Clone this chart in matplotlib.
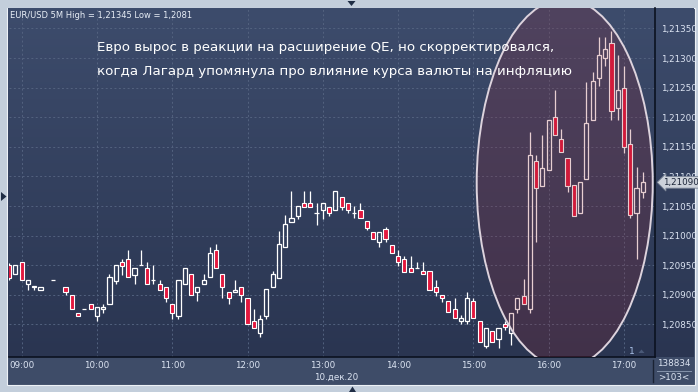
import numpy as np
import pandas as pd
import matplotlib
matplotlib.use("Agg")
import matplotlib.pyplot as plt
from matplotlib.patches import Ellipse, Rectangle, Polygon
from matplotlib.colors import LinearSegmentedColormap
from matplotlib.ticker import FuncFormatter
from matplotlib.transforms import blended_transform_factory

nan = np.nan

# EUR/USD 5M, 10.12.2020, 08:50 .. 17:15
times = pd.date_range("2020-12-10 08:50", periods=102, freq="5min")

opens = [1.20950, 1.20935, 1.20955, 1.20919, 1.20913, 1.20909, nan, 1.20925, nan, 1.20914,
         1.20899, 1.20870, 1.20876, 1.20884, 1.20865, 1.20876, 1.20884, 1.20924, 1.20955, 1.20960,
         1.20934, 1.20950, 1.20945, 1.20925, 1.20919, 1.20914, 1.20884, 1.20865, 1.20919, 1.20935,
         1.20904, 1.20919, 1.20930, 1.20976, 1.20935, 1.20904, 1.20904, 1.20914, 1.20894, 1.20856,
         1.20835, 1.20865, 1.20914, 1.20929, 1.20980, 1.21023, 1.21034, 1.21055, 1.21055, 1.21039,
         1.21044, 1.21049, 1.21044, 1.21065, 1.21055, 1.21039, 1.21044, 1.21024, 1.21006, 1.20990,
         1.21011, 1.20985, 1.20965, 1.20960, 1.20945, 1.20945, 1.20940, 1.20940, 1.20914, 1.20899,
         1.20889, 1.20876, 1.20855, 1.20855, 1.20889, 1.20855, 1.20814, 1.20839, 1.20825, 1.20850,
         1.20835, 1.20876, 1.20898, 1.20876, 1.21126, 1.21084, 1.21111, 1.21200, 1.21164, 1.21131,
         1.21085, 1.21039, 1.21095, 1.21195, 1.21266, 1.21300, 1.21325, 1.21215, 1.21250, 1.21154,
         1.21039, 1.21074]
highs = [1.20954, 1.20950, 1.20955, 1.20925, 1.20915, 1.20914, nan, 1.20925, nan, 1.20914,
         1.20899, 1.20870, 1.20876, 1.20884, 1.20879, 1.20884, 1.20935, 1.20950, 1.20960, 1.20976,
         1.20945, 1.20976, 1.20955, 1.20950, 1.20925, 1.20914, 1.20884, 1.20925, 1.20945, 1.20935,
         1.20914, 1.20935, 1.20981, 1.20986, 1.20935, 1.20904, 1.20925, 1.20914, 1.20894, 1.20876,
         1.20866, 1.20910, 1.20940, 1.21007, 1.21035, 1.21075, 1.21050, 1.21075, 1.21075, 1.21055,
         1.21055, 1.21049, 1.21075, 1.21065, 1.21055, 1.21050, 1.21055, 1.21024, 1.21006, 1.21006,
         1.21014, 1.20985, 1.20976, 1.20965, 1.20965, 1.20955, 1.20955, 1.20940, 1.20925, 1.20899,
         1.20889, 1.20894, 1.20866, 1.20904, 1.20894, 1.20855, 1.20844, 1.20839, 1.20844, 1.20855,
         1.20870, 1.20894, 1.20927, 1.21175, 1.21136, 1.21170, 1.21195, 1.21246, 1.21180, 1.21131,
         1.21085, 1.21090, 1.21260, 1.21277, 1.21336, 1.21336, 1.21345, 1.21305, 1.21286, 1.21180,
         1.21116, 1.21107]
lows = [1.20925, 1.20935, 1.20925, 1.20909, 1.20909, 1.20909, nan, 1.20925, nan, 1.20899,
        1.20876, 1.20865, 1.20876, 1.20876, 1.20855, 1.20870, 1.20884, 1.20919, 1.20933, 1.20930,
        1.20919, 1.20950, 1.20919, 1.20919, 1.20909, 1.20888, 1.20860, 1.20860, 1.20919, 1.20899,
        1.20889, 1.20919, 1.20930, 1.20945, 1.20894, 1.20884, 1.20904, 1.20888, 1.20850, 1.20844,
        1.20829, 1.20860, 1.20914, 1.20929, 1.20980, 1.21023, 1.21028, 1.21049, 1.21049, 1.21018,
        1.21028, 1.21034, 1.21044, 1.21044, 1.21039, 1.21029, 1.21029, 1.21009, 1.20995, 1.20980,
        1.20990, 1.20970, 1.20949, 1.20939, 1.20939, 1.20945, 1.20935, 1.20909, 1.20898, 1.20888,
        1.20871, 1.20861, 1.20850, 1.20850, 1.20861, 1.20820, 1.20810, 1.20820, 1.20810, 1.20841,
        1.20815, 1.20870, 1.20884, 1.20870, 1.20990, 1.21084, 1.21111, 1.21170, 1.21141, 1.21074,
        1.21034, 1.21039, 1.21095, 1.21195, 1.21252, 1.21286, 1.21195, 1.21195, 1.21140, 1.21029,
        1.20960, 1.21064]
closes = [1.20928, 1.20950, 1.20925, 1.20925, 1.20915, 1.20914, nan, 1.20925, nan, 1.20904,
          1.20876, 1.20865, 1.20876, 1.20876, 1.20879, 1.20879, 1.20930, 1.20950, 1.20949, 1.20930,
          1.20945, 1.20950, 1.20919, 1.20925, 1.20909, 1.20894, 1.20870, 1.20925, 1.20945, 1.20899,
          1.20914, 1.20925, 1.20971, 1.20945, 1.20914, 1.20894, 1.20909, 1.20899, 1.20850, 1.20844,
          1.20860, 1.20910, 1.20935, 1.20986, 1.21020, 1.21029, 1.21050, 1.21049, 1.21049, 1.21039,
          1.21055, 1.21039, 1.21075, 1.21049, 1.21044, 1.21039, 1.21029, 1.21013, 1.20995, 1.21006,
          1.20995, 1.20970, 1.20955, 1.20939, 1.20939, 1.20945, 1.20935, 1.20909, 1.20904, 1.20894,
          1.20871, 1.20861, 1.20861, 1.20894, 1.20861, 1.20820, 1.20844, 1.20820, 1.20844, 1.20845,
          1.20870, 1.20894, 1.20884, 1.21136, 1.21080, 1.21115, 1.21195, 1.21170, 1.21141, 1.21084,
          1.21034, 1.21090, 1.21190, 1.21261, 1.21305, 1.21315, 1.21211, 1.21246, 1.21149, 1.21035,
          1.21080, 1.21090]

price_ticks = [1.2085, 1.2090, 1.2095, 1.2100, 1.2105, 1.2110, 1.2115, 1.2120, 1.2125, 1.2130, 1.2135]
note = ["Евро вырос в реакции на расширение QE, но скорректировался,",
        "когда Лагард упомянула про влияние курса валюты на инфляцию"]

o = np.array(opens); h = np.array(highs); l = np.array(lows); c = np.array(closes)
x = np.arange(len(o))
ok = ~np.isnan(o)
up = ok & (c >= o)
dn = ok & (c < o)

W, H = 698, 392
fig = plt.figure(figsize=(W / 100, H / 100), dpi=100)
fig.patch.set_facecolor("#c3cedb")

def box(x0, y0, x1, y1):
    # pixel box (top-left origin) -> figure rect
    return [x0 / W, 1 - y1 / H, (x1 - x0) / W, (y1 - y0) / H]

# panels
fig.patches.append(Rectangle((7.5 / W, 1 - 384.5 / H), 687 / W, 377 / H, transform=fig.transFigure,
                             fc="#3e4c68", ec="#edf1f6", lw=0.8, zorder=-5))
bg = fig.add_axes(box(8, 8, 694, 357), zorder=-2)
grad = LinearSegmentedColormap.from_list("bg", ["#3d4c6c", "#2a3551"])
bg.imshow(np.linspace(0, 1, 256).reshape(-1, 1), cmap=grad, aspect="auto")
bg.axis("off")

ax = fig.add_axes(box(9, 8, 655, 357))
ax.patch.set_alpha(0)
ax.set_xlim(-0.01, 102.94)
ax.set_ylim(1.20795, 1.213845)

ax.grid(True, color="#53627f", ls=(0, (2, 2.5)), lw=0.7)
ax.set_axisbelow(True)

# candles
bw = 0.66
ax.vlines(x[ok], np.maximum(o, c)[ok], h[ok], color="white", lw=0.9, zorder=3)
ax.vlines(x[ok], l[ok], np.minimum(o, c)[ok], color="white", lw=0.9, zorder=3)
ax.bar(x[dn], (c - o)[dn], bottom=o[dn], width=bw, color="#e3183e", edgecolor="white", linewidth=0.8, zorder=4)
ax.bar(x[up], (c - o)[up], bottom=o[up], width=bw, facecolor="none", edgecolor="white", linewidth=0.9, zorder=4)

ax.add_patch(Ellipse((88.55, 1.21089), 28.05, 0.006216, fc=(149 / 255, 36 / 255, 49 / 255, 0.22),
                     ec="#ddd3dd", lw=1.4, zorder=5))

# axes
ax.yaxis.tick_right()
ax.set_yticks(price_ticks)
ax.yaxis.set_major_formatter(FuncFormatter(lambda v, p: f"{v:.5f}".replace(".", ",")))
hours = [i for i, t in enumerate(times) if t.minute == 0]
ax.set_xticks(hours)
ax.set_xticklabels([times[i].strftime("%H:%M") for i in hours])
ax.tick_params(axis="y", length=0, pad=4, labelsize=6.3, labelcolor="#dce4f2")
ax.tick_params(axis="x", length=0, pad=3, labelsize=6.3, labelcolor="#dce4f2")
for s in ["top", "left"]:
    ax.spines[s].set_visible(False)
for s in ["right", "bottom"]:
    ax.spines[s].set_color("#0b1220")
    ax.spines[s].set_linewidth(1.2)

# last price tag
tr = blended_transform_factory(ax.transAxes, ax.transData)
ax.text(1.013, c[-1], f"{c[-1]:.5f}".replace(".", ","), transform=tr, fontsize=6.3, color="#1c2538",
        va="center", ha="left", clip_on=False, zorder=10,
        bbox=dict(boxstyle="larrow,pad=0.15", fc="#cdd2da", ec="#7d8798", lw=0.6))

# texts
hi = f"{np.nanmax(h):.5f}".rstrip("0").replace(".", ",")
lo = f"{np.nanmin(l):.5f}".rstrip("0").replace(".", ",")
fig.text(10 / W, 1 - 15 / H, f"EUR/USD 5M High = {hi} Low = {lo}", fontsize=6, color="#e8eef6", va="center")
fig.text(97 / W, 1 - 48 / H, note[0], fontsize=9.6, color="white", va="center", zorder=10)
fig.text(97 / W, 1 - 71 / H, note[1], fontsize=9.6, color="white", va="center", zorder=10)
fig.text(336 / W, 1 - 377 / H, times[0].strftime("10.дек.20"), fontsize=6.3, color="#dce4f2", ha="center", va="center")
fig.text(674 / W, 1 - 364 / H, "138834", fontsize=6.3, color="#dce4f2", ha="center", va="center")
fig.text(674 / W, 1 - 377 / H, ">103<", fontsize=6.3, color="#dce4f2", ha="center", va="center")
fig.text(632 / W, 1 - 352 / H, "1", fontsize=6.5, color="#a9c0e6", ha="center", va="center")
fig.lines.append(plt.Line2D([657 / W, 691 / W], [1 - 371 / H] * 2, transform=fig.transFigure, color="#8593ab", lw=0.7))
fig.lines.append(plt.Line2D([652.7 / W] * 2, [1 - 360 / H, 1 - 382 / H], transform=fig.transFigure, color="#1a2233", lw=1))

# small markers
def tri(pts, col):
    fig.patches.append(Polygon([(px / W, 1 - py / H) for px, py in pts], closed=True,
                               transform=fig.transFigure, fc=col, ec="none"))

tri([(1, 192), (6.5, 196.5), (1, 201)], "#1f2d45")
tri([(347.5, 1), (355.5, 1), (351.5, 6)], "#1f2d45")
tri([(349, 392), (356, 392), (352.5, 386.5)], "#1f2d45")
tri([(638.5, 353), (644.5, 353), (641.5, 349.5)], "#4a5978")

fig.savefig("out.png", dpi=100, facecolor=fig.get_facecolor())
